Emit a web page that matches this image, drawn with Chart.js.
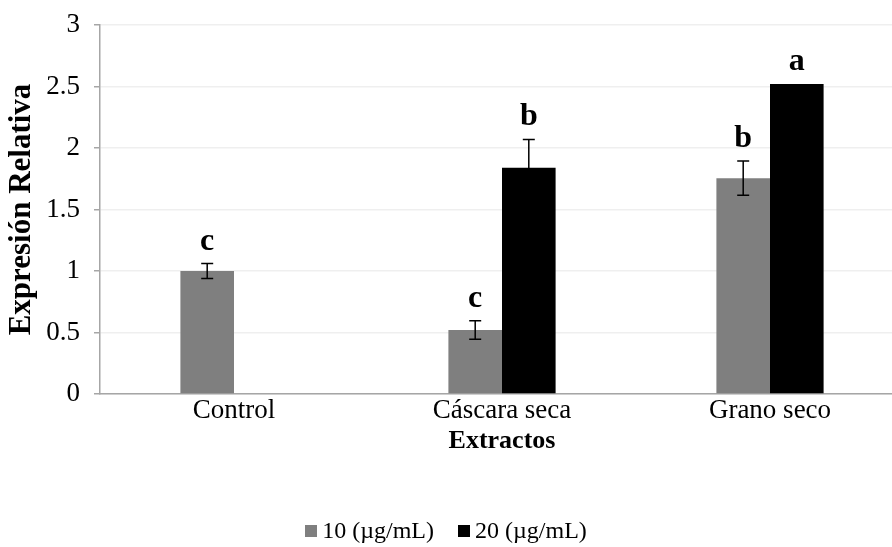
<!DOCTYPE html>
<html>
<head>
<meta charset="utf-8">
<script src="https://cdn.jsdelivr.net/npm/chart.js@4"></script>
<style>
  html, body { margin: 0; padding: 0; background: #fff; overflow: hidden; }
  #wrap { position: absolute; left: 0; top: 0; width: 910px; height: 547px; }
  #legend { position: absolute; left: 0; width: 892px; top: 516px; text-align: center; white-space: nowrap;
    font-family: 'Liberation Serif', 'Times New Roman', serif; font-size: 24px; color: #000; line-height: 28px; }
  #legend span.item { display: inline-block; margin: 0 12px; }
  #legend span.box { display: inline-block; width: 12px; height: 12px; margin-right: 5px; vertical-align: 1px; }
</style>
</head>
<body>
<div id="wrap"><canvas id="expChart"></canvas></div>
<div id="legend"></div>
<script>
const categories = ['Control', 'Cáscara seca', 'Grano seco'];
const seriesNames = ['10 (µg/mL)', '20 (µg/mL)'];
const values10 = [1.0, 0.52, 1.755];
const values20 = [null, 1.84, 2.52];
const errors10 = [0.06, 0.075, 0.14];
const errors20 = [null, 0.23, 0];
const letters10 = ['c', 'c', 'b'];
const letters20 = ['', 'b', 'a'];
const yTicks = [0, 0.5, 1, 1.5, 2, 2.5, 3];

const serif = "'Liberation Serif', 'Times New Roman', serif";
const colors = ['#7f7f7f', '#000000'];

// barras de error y letras de significancia
const errorBarPlugin = {
  id: 'errorBars',
  afterDatasetsDraw(chart) {
    const ctx = chart.ctx;
    const y = chart.scales.y;
    const errs = [errors10, errors20];
    const lets = [letters10, letters20];
    chart.data.datasets.forEach((ds, di) => {
      const meta = chart.getDatasetMeta(di);
      meta.data.forEach((bar, i) => {
        const v = ds.data[i];
        if (v === null || v === undefined) return;
        const e = errs[di][i] || 0;
        const x = bar.x;
        const yTop = y.getPixelForValue(v + e);
        const yBot = y.getPixelForValue(v - e);
        ctx.save();
        if (e > 0) {
          ctx.strokeStyle = '#000';
          ctx.lineWidth = 1.5;
          ctx.beginPath();
          ctx.moveTo(x, yTop); ctx.lineTo(x, yBot);
          ctx.moveTo(x - 6, yTop); ctx.lineTo(x + 6, yTop);
          ctx.moveTo(x - 6, yBot); ctx.lineTo(x + 6, yBot);
          ctx.stroke();
        }
        const txt = lets[di][i];
        if (txt) {
          ctx.fillStyle = '#000';
          ctx.font = 'bold 32px ' + serif;
          ctx.textAlign = 'center';
          ctx.textBaseline = 'alphabetic';
          ctx.fillText(txt, x, yTop - 14);
        }
        ctx.restore();
      });
    });
  }
};

const chart = new Chart(document.getElementById('expChart'), {
  type: 'bar',
  data: {
    labels: categories,
    datasets: [
      { label: seriesNames[0], data: values10, backgroundColor: colors[0] },
      { label: seriesNames[1], data: values20, backgroundColor: colors[1] }
    ]
  },
  options: {
    responsive: true,
    maintainAspectRatio: false,
    animation: false,
    categoryPercentage: 0.4,
    barPercentage: 1.0,
    layout: { padding: { left: 0, right: 6, top: 25, bottom: 90 } },
    plugins: {
      legend: { display: false },
      tooltip: { enabled: false }
    },
    scales: {
      x: {
        grid: { display: false, drawTicks: false },
        border: { color: '#a6a6a6', width: 1.5 },
        ticks: { color: '#000', font: { family: serif, size: 27 }, padding: 1 },
        title: { display: true, text: 'Extractos', color: '#000', font: { family: serif, size: 26, weight: 'bold' }, padding: 0 },
        afterFit(s) { s.height = 63; s.paddingLeft = 0; s.paddingRight = 0; }
      },
      y: {
        min: 0,
        max: 3,
        afterBuildTicks(s) { s.ticks = yTicks.map(v => ({ value: v })); },
        grid: { color: '#efefef', lineWidth: 1.5, tickLength: 6, tickColor: '#a6a6a6', drawOnChartArea: true },
        border: { color: '#a6a6a6', width: 1.5 },
        ticks: { color: '#000', font: { family: serif, size: 27 }, padding: 14, callback: v => String(v) },
        title: { display: true, text: 'Expresión Relativa', color: '#000', font: { family: serif, size: 31, weight: 'bold' }, padding: 3 },
        afterFit(s) { s.width = 100; s.paddingTop = 0; s.paddingBottom = 0; }
      }
    }
  },
  plugins: [errorBarPlugin]
});

// leyenda
const legend = document.getElementById('legend');
seriesNames.forEach((name, i) => {
  const item = document.createElement('span');
  item.className = 'item';
  const box = document.createElement('span');
  box.className = 'box';
  box.style.background = colors[i];
  item.appendChild(box);
  item.appendChild(document.createTextNode(name));
  legend.appendChild(item);
});
</script>
</body>
</html>
